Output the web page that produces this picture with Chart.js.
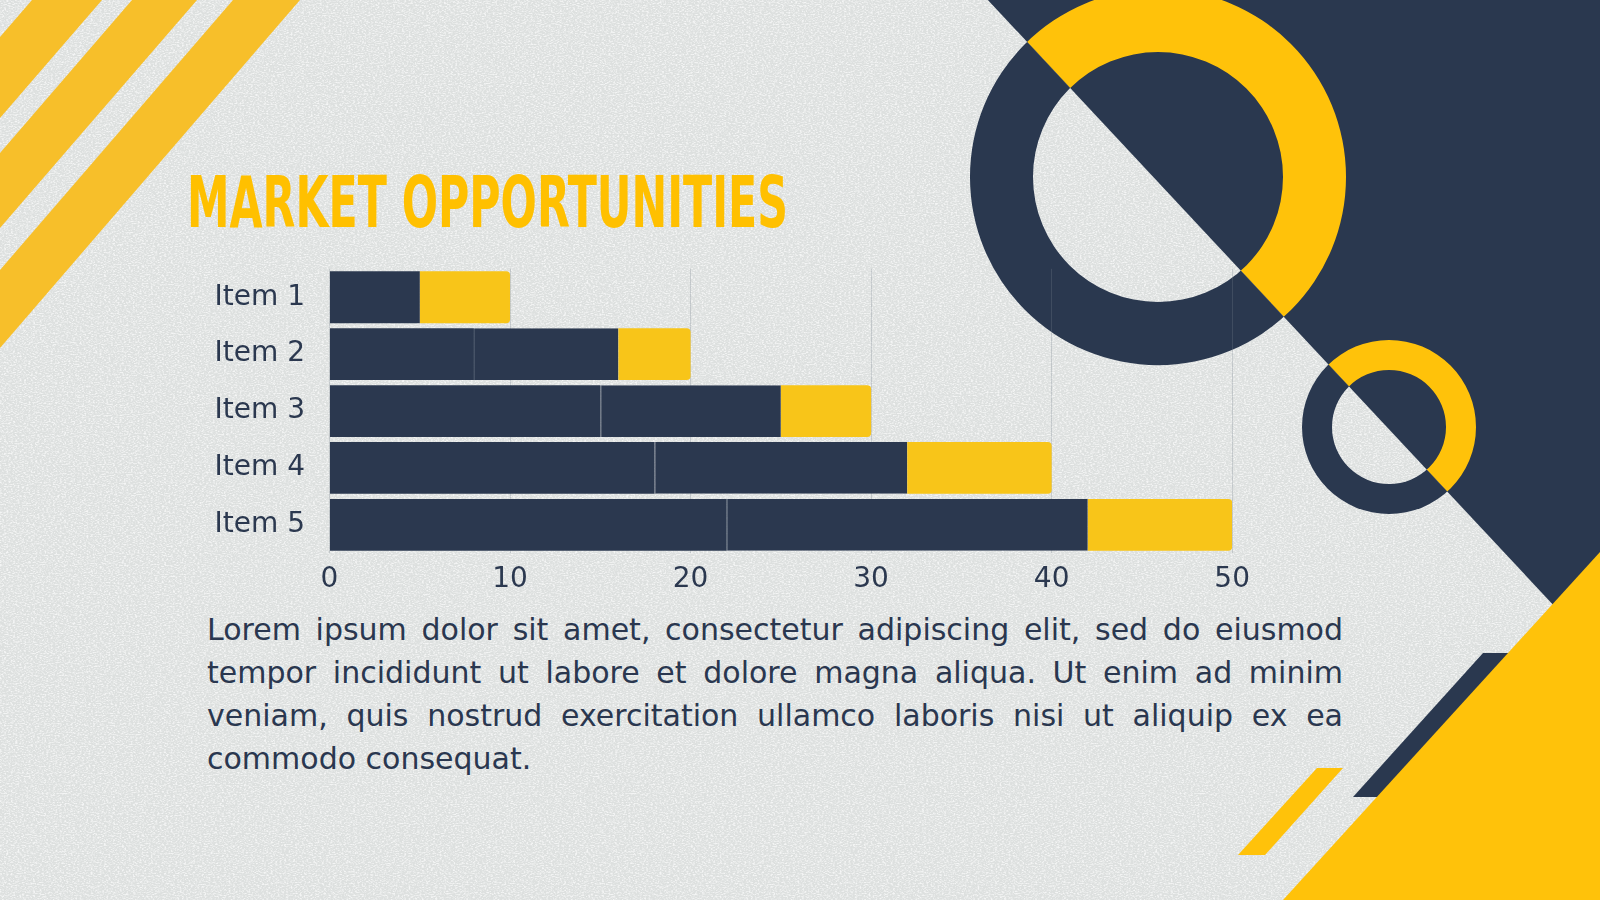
<!DOCTYPE html>
<html>
<head>
<meta charset="utf-8">
<script src="https://cdn.jsdelivr.net/npm/chart.js"></script>
<style>
    html, body { margin: 0; padding: 0; }
    body { width: 1600px; height: 900px; position: relative; overflow: hidden; background: #e4e6e5; }
    #deco { position: absolute; left: 0; top: 0; }
    #chartBox { position: absolute; left: 190px; top: 251.7px; width: 1070px; height: 353.3px; }
    #text {
        position: absolute; left: 207px; top: 608px; width: 1136px;
        font-family: "DejaVu Sans", sans-serif; font-size: 30px; line-height: 43px;
        color: #2a374f; text-align: justify;
    }
</style>
</head>
<body>
<svg id="deco" width="1600" height="900" viewBox="0 0 1600 900">
    <defs>
        <filter id="tex" x="0" y="0" width="100%" height="100%">
            <feTurbulence type="fractalNoise" baseFrequency="0.45 0.9" numOctaves="2" seed="4"/>
            <feColorMatrix type="matrix" values="0 0 0 0 1  0 0 0 0 1  0 0 0 0 1  3 0 0 0 -1.3"/>
        </filter>
        <clipPath id="upper"><polygon points="700,-308 1900,-308 1900,976"/></clipPath>
        <clipPath id="lower"><polygon points="700,-308 1900,976 700,976"/></clipPath>
    </defs>
    <rect x="0" y="0" width="1600" height="900" fill="#dde0df"/>
    <rect x="0" y="0" width="1600" height="900" filter="url(#tex)" opacity="0.7"/>

    <!-- stripes top left -->
    <polygon points="32,0 102,0 0,118 0,37" fill="#f7bf2a"/>
    <polygon points="132,0 197,0 0,228 0,153" fill="#f7bf2a"/>
    <polygon points="233,0 300,0 0,348 0,270" fill="#f7bf2a"/>

    <!-- navy block top right -->
    <polygon points="700,-308 1900,-308 1900,976" fill="#2a384f"/>

    <!-- big ring -->
    <path d="M 970 177 a 188 188 0 1 0 376 0 a 188 188 0 1 0 -376 0 Z M 1033 177 a 125 125 0 1 0 250 0 a 125 125 0 1 0 -250 0 Z"
          fill="#ffc20a" fill-rule="evenodd" clip-path="url(#upper)"/>
    <path d="M 970 177 a 188 188 0 1 0 376 0 a 188 188 0 1 0 -376 0 Z M 1033 177 a 125 125 0 1 0 250 0 a 125 125 0 1 0 -250 0 Z"
          fill="#2a384f" fill-rule="evenodd" clip-path="url(#lower)"/>

    <!-- small ring -->
    <path d="M 1302 427 a 87 87 0 1 0 174 0 a 87 87 0 1 0 -174 0 Z M 1332 427 a 57 57 0 1 0 114 0 a 57 57 0 1 0 -114 0 Z"
          fill="#ffc20a" fill-rule="evenodd" clip-path="url(#upper)"/>
    <path d="M 1302 427 a 87 87 0 1 0 174 0 a 87 87 0 1 0 -174 0 Z M 1332 427 a 57 57 0 1 0 114 0 a 57 57 0 1 0 -114 0 Z"
          fill="#2a384f" fill-rule="evenodd" clip-path="url(#lower)"/>

    <!-- bottom right shapes -->
    <polygon points="1483,653 1600,653 1600,797 1353,797" fill="#2a384f"/>
    <polygon points="1600,552 1600,900 1283,900" fill="#ffc20a"/>
    <polygon points="1317,768 1343,768 1265,855 1238,855" fill="#ffc20a"/>

    <text x="187" y="226.5" textLength="601" lengthAdjust="spacingAndGlyphs"
          font-family="Liberation Sans Narrow, DejaVu Sans Condensed, sans-serif" font-weight="bold"
          font-size="72" fill="#ffc000">MARKET OPPORTUNITIES</text>
</svg>

<div id="chartBox"><canvas id="barChart"></canvas></div>

<div id="text">Lorem ipsum dolor sit amet, consectetur adipiscing elit, sed do eiusmod tempor incididunt ut labore et dolore magna aliqua. Ut enim ad minim veniam, quis nostrud exercitation ullamco laboris nisi ut aliquip ex ea commodo consequat.</div>

<script>
    const items = ['Item 1', 'Item 2', 'Item 3', 'Item 4', 'Item 5'];
    const seriesA = [5, 8, 15, 18, 22];
    const seriesB = [0, 8, 10, 14, 20];
    const seriesC = [5, 4, 5, 8, 8];
    const xTicks = [0, 10, 20, 30, 40, 50];

    const navy = '#2b384f';
    const gold = '#f8c519';
    const tickFont = { family: 'DejaVu Sans', size: 28 };

    new Chart(document.getElementById('barChart'), {
        type: 'bar',
        data: {
            labels: items,
            datasets: [
                { data: seriesA, backgroundColor: navy, borderWidth: 0 },
                { data: seriesB, backgroundColor: navy, borderColor: '#3d4a60',
                  borderWidth: { top: 0, right: 0, bottom: 0, left: 1 }, borderSkipped: false },
                { data: seriesC, backgroundColor: gold, borderWidth: 0, borderRadius: 4 }
            ]
        },
        options: {
            indexAxis: 'y',
            responsive: true,
            maintainAspectRatio: false,
            animation: false,
            layout: { padding: { top: 0, right: 18.5, left: 0, bottom: 0 } },
            datasets: { bar: { barPercentage: 0.91, categoryPercentage: 1 } },
            plugins: { legend: { display: false }, tooltip: { enabled: false } },
            scales: {
                x: {
                    stacked: true,
                    min: xTicks[0],
                    max: xTicks[xTicks.length - 1],
                    afterFit: s => { s.height = 52; },
                    afterBuildTicks: s => { s.ticks = xTicks.map(v => ({ value: v })); },
                    ticks: { color: navy, font: tickFont, padding: 10 },
                    grid: { color: 'rgba(120,130,140,0.28)', lineWidth: 1, drawTicks: false },
                    border: { display: false }
                },
                y: {
                    stacked: true,
                    afterFit: s => { s.width = 139.5; },
                    ticks: { color: navy, font: tickFont, padding: 0 },
                    grid: { display: false, drawTicks: true, tickLength: 24.5, color: 'rgba(0,0,0,0)' },
                    border: { display: false }
                }
            }
        }
    });
</script>
</body>
</html>
